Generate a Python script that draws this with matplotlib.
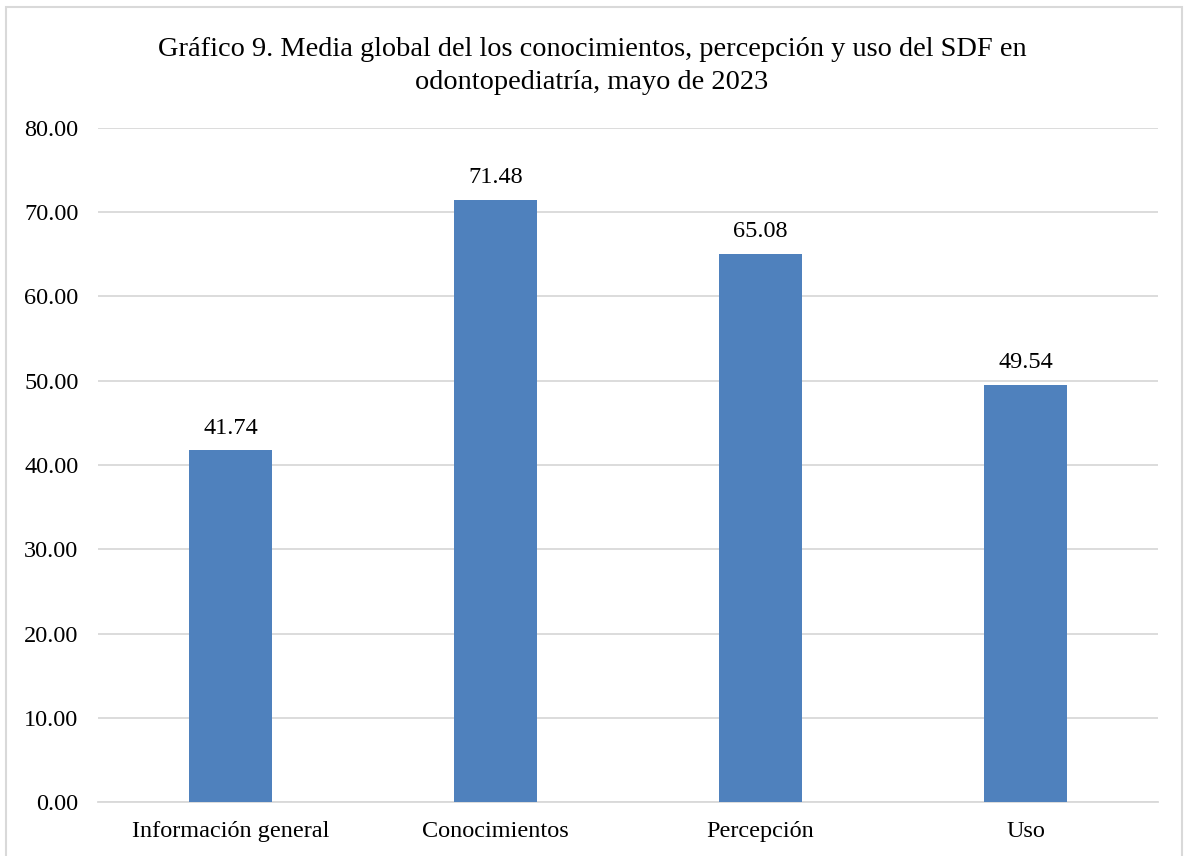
import matplotlib.pyplot as plt
from matplotlib.patches import Rectangle

categories = ["Información general", "Conocimientos", "Percepción", "Uso"]
values = [41.74, 71.48, 65.08, 49.54]
yticks = [0, 10, 20, 30, 40, 50, 60, 70, 80]

plt.rcParams['font.family'] = ['Liberation Serif', 'DejaVu Serif']

fig = plt.figure(figsize=(11.84, 8.56), dpi=100)
ax = fig.add_axes([98 / 1184, 1 - 802 / 856, 1060 / 1184, 674 / 856])

x = range(len(categories))
bars = ax.bar(x, values, width=0.31, color="#4F81BD", zorder=3)
for b, v in zip(bars, values):
    ax.text(b.get_x() + b.get_width() / 2, v + 1.4, f"{v:.2f}",
            ha="center", va="bottom", fontsize=17.5, color="#000000")

ax.set_xlim(-0.5, len(categories) - 0.5)
ax.set_ylim(0, 80)
ax.set_yticks(yticks)
ax.set_yticklabels([f"{t:.2f}" for t in yticks], fontsize=17.5)
ax.set_xticks(list(x))
ax.set_xticklabels(categories, fontsize=17.5)
ax.tick_params(axis="y", length=0, pad=14)
ax.tick_params(axis="x", length=0, pad=14)
ax.grid(axis="y", color="#D9D9D9", linewidth=1.3, zorder=0)
for s in ["top", "right", "left"]:
    ax.spines[s].set_visible(False)
ax.spines["bottom"].set_color("#D9D9D9")
ax.spines["bottom"].set_linewidth(1.3)

fig.text(0.5, 1 - 66 / 856,
         "Gráfico 9. Media global del los conocimientos, percepción y uso del SDF en\nodontopediatría, mayo de 2023",
         ha="center", va="center", fontsize=20.4, linespacing=1.42)

fig.patches.append(Rectangle((6 / 1184, -0.01), 1176 / 1184, 1 - 7 / 856 + 0.01,
                             transform=fig.transFigure, fill=False,
                             edgecolor="#D9D9D9", linewidth=1.5))

fig.savefig("out.png", dpi=100)
